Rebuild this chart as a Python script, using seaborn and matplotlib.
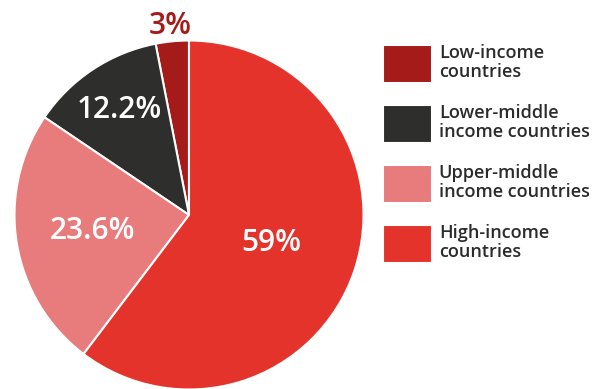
import numpy as np
import matplotlib
matplotlib.use('Agg')
import matplotlib.pyplot as plt
import seaborn as sns

# Share of total by country income group
groups = ['Low-income\ncountries', 'Lower-middle\nincome countries',
          'Upper-middle\nincome countries', 'High-income\ncountries']
shares = [3, 12.2, 23.6, 59]
share_labels = ['3%', '12.2%', '23.6%', '59%']
colors = sns.color_palette(['#A51B1A', '#2E2E2C', '#E87B7B', '#E4332B'])

sns.set_theme(style='white')
plt.rcParams['font.family'] = ['Open Sans', 'DejaVu Sans']

fig = plt.figure(figsize=(6.02, 3.89), dpi=100)
ax = fig.add_axes([14.5 / 602, -0.5 / 389, 349 / 602, 349 / 389])

wedges, _ = ax.pie(shares, colors=colors, startangle=90, counterclock=True,
                   radius=1, wedgeprops=dict(edgecolor='white', linewidth=1.5))
ax.set_xlim(-1, 1)
ax.set_ylim(-1, 1)
ax.axis('off')

# label radius per wedge (fraction of the pie radius)
label_r = [1.09, 0.72, 0.56, 0.5]
label_colors = ['#A51B1A', 'white', 'white', 'white']
for w, txt, r, c in zip(wedges, share_labels, label_r, label_colors):
    ang = np.deg2rad((w.theta1 + w.theta2) / 2)
    ax.text(r * np.cos(ang), r * np.sin(ang), txt, ha='center', va='center',
            fontsize=21.5, fontweight=600, color=c, clip_on=False)

leg = fig.legend(wedges, groups, loc='upper left',
                 bbox_to_anchor=(383 / 602, 1 - 44 / 389), bbox_transform=fig.transFigure,
                 frameon=False, borderpad=0, borderaxespad=0,
                 handlelength=2.71, handleheight=2.86, handletextpad=0.38,
                 labelspacing=1.17, labelcolor='#2B2B2B',
                 prop=dict(weight=600, size=13))
for t in leg.get_texts():
    t.set_linespacing(1.05)

fig.savefig('out.png', dpi=100)
